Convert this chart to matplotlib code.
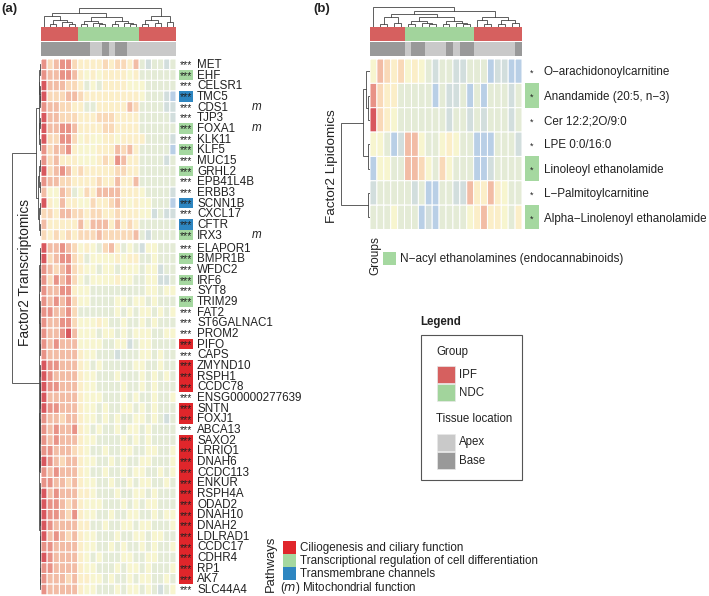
from __future__ import annotations

import matplotlib
matplotlib.use("Agg")
import matplotlib.pyplot as plt
import numpy as np
from matplotlib.colors import LinearSegmentedColormap, ListedColormap
from matplotlib.patches import Rectangle

plt.rcParams["font.family"] = ["Liberation Sans", "DejaVu Sans"]

W, H = 709, 596

genes_top = ["MET", "EHF", "CELSR1", "TMC5", "CDS1", "TJP3", "FOXA1", "KLK11", "KLF5", "MUC15",
             "GRHL2", "EPB41L4B", "ERBB3", "SCNN1B", "CXCL17", "CFTR", "IRX3"]
genes_bottom = ["ELAPOR1", "BMPR1B", "WFDC2", "IRF6", "SYT8", "TRIM29", "FAT2", "ST6GALNAC1", "PROM2",
                "PIFO", "CAPS", "ZMYND10", "RSPH1", "CCDC78", "ENSG00000277639", "SNTN", "FOXJ1",
                "ABCA13", "SAXO2", "LRRIQ1", "DNAH6", "CCDC113", "ENKUR", "RSPH4A", "ODAD2", "DNAH10",
                "DNAH2", "LDLRAD1", "CCDC17", "CDHR4", "RP1", "AK7", "SLC44A4"]

# colour levels: -3 blue ... 0 pale yellow ... 5 deep red
expr_top = [
    [4, 2, 3, 4, 4, 2, 1, 1, 1, 1, 2, 1, 2, 2, 1, 3, -1, -2, -1, -1, -2, -1],
    [4, 3, 3, 4, 4, 3, 1, 0, 1, 0, 1, 1, 1, 1, 0, 1, -1, -1, -1, -1, -1, -1],
    [5, 3, 3, 3, 2, 2, 1, -1, 0, -1, 1, 1, 1, 1, 0, 0, 0, -1, -1, -1, -1, -1],
    [5, 2, 2, 2, 3, 3, 2, 1, 1, 1, 1, 1, 1, 1, 1, 1, 0, -1, -1, -1, -2, -3],
    [4, 3, 3, 2, 2, 1, 1, -1, -1, 1, 1, 1, 1, 1, 3, 2, -1, -1, -1, -1, -2, -2],
    [5, 3, 3, 2, 2, 2, 1, 1, 1, 2, 2, 2, 1, 1, 1, 1, -1, -1, -1, -1, -1, -2],
    [5, 3, 3, 4, 4, 3, 1, 1, 1, 1, 2, 2, 1, 1, 1, 1, -1, -1, -1, -1, -1, -1],
    [5, 2, 2, 4, 4, 2, 0, 1, 0, 0, 1, 1, 0, 1, 1, 1, 1, -1, -1, -1, -1, -2],
    [4, 2, 3, 3, 4, 1, 0, 0, 0, 1, 1, 1, 3, 2, 3, 1, -1, -1, -1, -1, -1, -3],
    [4, 2, 3, 1, 1, 1, 0, 0, 0, 1, 2, 1, 4, 3, 1, 1, -1, -1, -1, -1, -2, -1],
    [5, 2, 3, 4, 3, 1, 2, 1, 1, 1, 1, 1, 2, 2, 1, 1, -1, -1, -1, -1, -1, -1],
    [4, 3, 3, 2, 2, 1, 1, 1, 1, 2, 1, 1, 3, 1, 1, 3, -1, -1, -1, -1, -1, -1],
    [3, 0, 0, 3, 2, -1, 0, 2, 1, 3, 3, 3, 3, 1, 1, 1, 0, -1, -1, -1, -1, -2],
    [5, 1, 0, 3, 1, 1, 0, 0, 2, 1, 1, 2, 3, 1, 0, 1, 0, 0, -1, -1, -1, -3],
    [2, 2, 1, 3, 3, 2, 2, 1, 2, 2, 1, 1, 2, 1, 1, 1, 0, 0, -2, -1, -2, -2],
    [3, 1, 1, 1, 1, 1, 3, 1, 3, 3, 3, 1, 3, 1, 2, 1, -1, -1, -1, -1, -1, -1],
    [2, 1, 2, 1, 2, 1, 2, 2, 2, 3, 2, 2, 2, 2, 2, 3, -1, -2, -1, -1, -1, -1],
]
expr_bottom = [
    [5, 3, 3, 4, 3, 2, 0, 1, 0, -1, 2, 3, 1, -1, 0, -1, -2, 0, 0, -1, -1, -1],
    [5, 2, 3, 4, 4, 2, 1, -1, 0, 0, 0, 0, 1, 0, 1, 1, -1, -1, 0, -1, -1, -1],
    [4, 3, 2, 3, 4, 2, 1, 0, 0, -1, 0, 0, -1, 0, 0, 0, -1, 0, 0, -2, -1, -1],
    [4, 2, 4, 3, 4, 2, 0, -1, 0, 0, 0, 0, 1, 0, 0, -1, -1, 0, 0, -2, -2, -1],
    [4, 3, 3, 4, 4, 1, 0, 0, -1, -1, -1, -1, -1, -1, -1, -1, -1, 0, 0, -1, 0, 0],
    [4, 3, 4, 3, 4, 2, 0, 0, -1, -1, -1, -1, 0, 0, -1, 0, 0, -1, 0, -1, -1, -1],
    [4, 4, 3, 3, 4, 2, -1, -1, -1, -1, -1, -1, 0, -1, 0, -1, 0, 0, -1, 0, -1, 0],
    [4, 3, 3, 4, 4, 2, 0, 0, 0, 1, 0, -1, -1, 0, -1, -1, 0, -1, 0, -1, -1, -1],
    [4, 3, 3, 4, 5, 3, 0, 0, 0, -1, 0, 0, -1, 0, -1, 0, 0, 0, -1, -1, 0, 0],
    [4, 3, 4, 3, 3, 3, 0, 0, 0, 0, -1, -1, 0, 0, -2, -1, 0, 0, -1, -1, -1, -1],
    [4, 3, 3, 3, 3, 3, 1, 0, 0, -1, -1, -1, -2, -1, -1, -1, 0, 0, -1, 0, -1, -1],
    [5, 4, 4, 3, 3, 3, 1, 0, -1, 0, -1, -1, -1, -1, -1, 0, 0, -1, -1, 0, -1, -1],
    [5, 4, 3, 3, 3, 3, 1, 0, 0, -1, -1, -1, 0, -1, -1, -1, 0, -1, 0, -1, 0, -1],
    [5, 4, 4, 3, 3, 3, 1, 0, 0, -1, -1, -1, -1, 0, -1, -1, 0, -1, 0, -1, -1, -1],
    [5, 3, 3, 3, 3, 3, 1, 0, 0, 0, -1, -1, -1, 0, -1, 0, -1, -1, 0, -1, -1, 0],
    [5, 4, 4, 3, 3, 3, 1, 0, 0, -1, 0, -1, -1, 0, 0, -1, 0, -1, 0, -1, -1, -1],
    [4, 3, 3, 2, 3, 3, 1, 0, 0, -1, 0, -1, 0, -1, -1, 0, 0, -1, 0, -1, -2, -1],
    [4, 3, 4, 3, 3, 4, 1, 0, -1, 0, -1, -1, 0, -1, 0, 0, -1, 0, -1, -1, -1, -1],
    [4, 3, 4, 3, 3, 3, 1, 0, 0, -1, -1, -1, -1, 0, -1, 0, -1, 0, -1, -1, -1, -1],
    [4, 4, 3, 3, 3, 2, 1, 0, -1, -1, 0, -1, -1, 0, 0, -1, -1, 0, 0, -1, -1, 0],
    [5, 4, 3, 2, 3, 3, 1, 0, 0, -1, -1, 0, -1, 0, -1, -1, 0, 0, -1, -1, -1, 0],
    [4, 3, 4, 3, 3, 3, 1, 0, -1, -1, 0, -1, -1, 0, -1, 0, 0, -1, -1, 0, -1, 0],
    [4, 4, 3, 3, 2, 3, 1, 0, 0, -1, -1, 0, -1, -1, 0, -1, 0, 0, -1, -1, 0, -1],
    [5, 3, 4, 3, 3, 3, 1, 1, 0, -1, -1, -1, 0, -1, -1, 0, 0, -1, 0, -1, -1, -1],
    [5, 4, 4, 3, 2, 3, 1, 0, 0, 0, -1, -1, -1, 0, -1, 0, -1, 0, 0, -1, -1, -1],
    [5, 4, 4, 3, 2, 4, 1, 0, 0, -1, -1, 0, -1, -1, 0, 0, -1, -1, 0, -1, 0, 0],
    [5, 4, 3, 3, 3, 3, 1, 1, -1, -1, 0, -1, -1, 0, 0, -1, 0, 0, -1, -1, -1, 0],
    [5, 3, 4, 3, 2, 3, 1, 0, 0, -1, -1, -1, 0, -1, -1, 0, 0, -1, 0, 0, -1, -1],
    [4, 4, 3, 3, 3, 3, 1, 0, 0, -1, -1, 0, -1, 0, -1, -1, 0, -1, 0, -1, -1, 0],
    [5, 4, 3, 3, 3, 3, 1, 0, -1, 0, -1, -1, -1, 0, 0, -1, -1, 0, 0, -1, -1, -1],
    [4, 4, 3, 3, 3, 3, 1, 0, 0, -1, -1, -1, 0, -1, 0, 0, -1, 0, -1, -1, -1, 0],
    [4, 3, 3, 3, 2, 3, 1, 1, 0, 0, -1, 0, -1, -1, 0, -1, 0, 0, -1, -1, 0, -1],
    [4, 3, 3, 3, 3, 3, 1, 0, 0, -1, -1, -1, 0, -1, 0, 0, -1, 0, -1, -2, -1, 0],
]

# pathway of each gene: r ciliary, g transcription, b channel, "" none
path_top = ["", "g", "", "b", "", "", "g", "", "g", "", "g", "", "", "b", "", "b", "g"]
path_bottom = ["", "g", "", "g", "", "g", "", "", "", "r", "", "r", "r", "r", "", "r", "r", "",
               "r", "r", "r", "r", "r", "r", "r", "r", "r", "r", "r", "r", "r", "r", ""]
mito_genes = ["CDS1", "FOXA1", "IRX3"]

group_a = ["IPF"] * 6 + ["NDC"] * 10 + ["IPF"] * 6
tissue_a = ["Base"] * 8 + ["Apex"] * 2 + ["Base"] + ["Apex"] + ["Base"] * 2 + ["Apex"] * 8
group_b = ["IPF"] * 5 + ["NDC"] * 10 + ["IPF"] * 7
tissue_b = (["Base"] * 5 + ["Apex"] + ["Base"] * 2 + ["Apex"] * 3 + ["Base"] + ["Apex"] + ["Base"] * 2
            + ["Apex"] * 6 + ["Base"])

lipids = ["O\u2212arachidonoylcarnitine", "Anandamide (20:5, n\u22123)", "Cer 12:2;2O/9:0", "LPE 0:0/16:0",
          "Linoleoyl ethanolamide", "L\u2212Palmitoylcarnitine", "Alpha\u2212Linolenoyl ethanolamide"]
path_lipids = ["", "g", "", "", "g", "", "g"]
lipid_values = [
    [0, 3, 2, 1, 2, 0, 1, 0, -1, -2, -1, -1, -2, -2, -1, -1, -1, -3, -2, -2, -3, -3],
    [4, 2, 1, 1, -1, -1, -1, -1, -1, -3, -1, -2, -2, -1, -3, -1, -3, -1, -1, -1, -2, -1],
    [5, 2, 1, 0, -1, -1, -1, -1, -1, -1, -1, -2, -1, -1, -2, -1, -2, -1, -1, -1, -2, -1],
    [0, 0, -1, -3, -2, 3, 3, 0, -1, -1, 0, 1, 0, -1, -1, -3, -3, -3, -1, -1, -1, -2],
    [-3, 0, 0, -1, -1, 3, 3, 2, 0, -1, 2, 0, -1, -1, -1, -3, -3, -2, -1, -1, -1, -1],
    [-2, -1, -1, -1, -1, -1, -2, -1, -3, -3, -1, -1, -2, -2, 3, 1, 1, 3, 1, 0, -1, -1],
    [-1, -1, -1, 0, -1, -1, -1, -3, -2, -3, -1, -1, -1, -1, 0, 1, 3, 1, 1, 0, -1, 1],
]

# dendrograms as nested (height, left, right), L is a leaf
L = None
five = (0.7, (0.4, L, L), (0.5, L, (0.3, L, L)))
six = (0.7, (0.5, L, (0.3, L, L)), (0.5, L, (0.3, L, L)))
cols5 = (6, (3, L, L), (4, L, (2.5, L, L)))

tree_rows_a = (
    29,
    (4.4,
     (2.0, (1.3, (0.8, L, L), (0.9, L, (0.5, L, L))), (1.2, (0.7, L, L), (0.9, L, L))),
     (2.2, (1.2, (0.7, L, L), (0.8, L, L)), (1.5, (0.9, L, L), (0.6, L, L)))),
    (1.6,
     (1.2, (0.8, (0.5, L, L), (0.6, L, (0.4, L, L))), (0.9, (0.5, L, L), (0.6, (0.4, L, L), (0.3, L, L)))),
     (1.2, (0.8, five, six), (0.9, five, six))),
)
tree_cols_a = (
    19,
    (13.5,
     (10.5, L, (7, (3, L, L), (4.5, L, (2.5, L, L)))),
     (10, cols5, cols5)),
    (10.5, (6.5, (3, L, L), (4, L, L)), (5, L, L)),
)
tree_rows_b = (
    29,
    (6.5, (4, L, (2, L, L)), (2, L, L)),
    (1.5, L, L),
)
tree_cols_b = (
    19.5,
    L,
    (16,
     (12.5, (9.5, (3, L, L), (4, L, L)), (10, cols5, cols5)),
     (9.5, (6.5, L, (3, L, L)), (7, (3, L, L), (4, L, L)))),
)

HEAT_COLORS = ["#b9cfe6", "#d2dedd", "#e4ebd6", "#f7f5cf", "#fbeec8", "#f9dab8", "#f2bda6", "#e89488", "#d8575e"]
heat_cmap = LinearSegmentedColormap.from_list("heat", HEAT_COLORS)
GROUP_COL = {"IPF": "#d6605f", "NDC": "#a2d49c"}
TISSUE_COL = {"Apex": "#c9c9c9", "Base": "#999999"}
PATH_COL = {"r": "#e0262b", "g": "#a5d8a0", "b": "#2e86c1"}
TEXT = "#222222"


def px_axes(fig, x0, y0, x1, y1):
    ax = fig.add_axes([x0 / W, 1 - y1 / H, (x1 - x0) / W, (y1 - y0) / H])
    ax.set_axis_off()
    return ax


def heat(fig, box, values):
    ax = px_axes(fig, *box)
    mesh = ax.pcolormesh(np.array(values, float), cmap=heat_cmap, vmin=-3, vmax=5,
                         edgecolors="white", linewidth=0.72, antialiased=True)
    # snapping makes the gaps uneven on thin columns
    mesh.set_snap(False)
    ax.set_ylim(len(values), 0)
    return ax


def strip(fig, box, labels, colors):
    ax = px_axes(fig, *box)
    names = list(colors)
    codes = np.array([[names.index(v) for v in labels]])
    ax.pcolormesh(codes, cmap=ListedColormap([colors[n] for n in names]), vmin=-0.5, vmax=len(names) - 0.5)
    return ax


def draw_tree(ax, node, leaves, vertical):
    # returns position and height of the node, drawing it on the way
    if node is None:
        return next(leaves), 0.0
    h, left, right = node
    p1, h1 = draw_tree(ax, left, leaves, vertical)
    p2, h2 = draw_tree(ax, right, leaves, vertical)
    pos = [p1, p1, p2, p2]
    hts = [h1, h, h, h2]
    if vertical:
        ax.plot(pos, hts, color="#444444", lw=0.6, solid_joinstyle="miter")
    else:
        ax.plot(hts, pos, color="#444444", lw=0.6, solid_joinstyle="miter")
    return (p1 + p2) / 2, h


def path_cells(ax, paths, boxed_star="***", size=7.6):
    for i, p in enumerate(paths):
        if p:
            ax.add_patch(Rectangle((0, i), 1, 1, facecolor=PATH_COL[p], edgecolor="none"))
        ax.text(0.5, i + 0.58, boxed_star, ha="center", va="center", fontsize=size, color=TEXT)


def main() -> None:
    fig = plt.figure(figsize=(W / 100, H / 100), dpi=100, facecolor="white")
    n_cols = len(group_a)
    pitch = 10.67
    top0 = 59.0
    top1 = top0 + pitch * len(genes_top)
    bot0 = top1 + 2.3
    bot1 = bot0 + pitch * len(genes_bottom)

    # panel a
    strip(fig, (41, 27, 176, 41), group_a, GROUP_COL)
    strip(fig, (41, 42, 176, 56), tissue_a, TISSUE_COL)
    heat(fig, (41, top0, 176, top1), expr_top)
    heat(fig, (41, bot0, 176, bot1), expr_bottom)

    ax = px_axes(fig, 41, 3, 176, 26.5)
    ax.set_xlim(0, n_cols)
    ax.set_ylim(0, 23.5)
    draw_tree(ax, tree_cols_a, iter(np.arange(n_cols) + 0.5), True)

    ax = px_axes(fig, 10, top0, 40.5, bot1)
    ax.set_xlim(30.5, 0)
    gap = (bot0 - top1) / pitch
    n_top, n_bot = len(genes_top), len(genes_bottom)
    ax.set_ylim(n_top + n_bot + gap, 0)
    leaf_y = np.r_[np.arange(n_top) + 0.5, np.arange(n_bot) + 0.5 + n_top + gap]
    draw_tree(ax, tree_rows_a, iter(leaf_y), False)

    for box, genes, paths in [((178.5, top0, 193, top1), genes_top, path_top),
                              ((178.5, bot0, 193, bot1), genes_bottom, path_bottom)]:
        ax = px_axes(fig, *box)
        ax.set_xlim(0, 1)
        ax.set_ylim(len(genes), 0)
        path_cells(ax, paths)
        ax = px_axes(fig, 197, box[1], 320, box[3])
        ax.set_xlim(0, 123)
        ax.set_ylim(len(genes), 0)
        for i, g in enumerate(genes):
            ax.text(0, i + 0.55, g, ha="left", va="center", fontsize=8.4, color=TEXT)
            if g in mito_genes:
                ax.text(60, i + 0.5, "m", ha="center", va="center", fontsize=8.4, style="italic", color=TEXT)

    fig.text(25 / W, 1 - 272 / H, "Factor2 Transcriptomics", rotation=90, ha="center", va="center",
             fontsize=9.9, color=TEXT)

    # panel b
    strip(fig, (370, 27, 522, 41), group_b, GROUP_COL)
    strip(fig, (370, 42, 522, 56), tissue_b, TISSUE_COL)
    heat(fig, (370, 59, 522, 229.5), lipid_values)

    ax = px_axes(fig, 370, 3, 522, 26.5)
    ax.set_xlim(0, len(group_b))
    ax.set_ylim(0, 23.5)
    draw_tree(ax, tree_cols_b, iter(np.arange(len(group_b)) + 0.5), True)

    ax = px_axes(fig, 339, 59, 369.5, 229.5)
    ax.set_xlim(30.5, 0)
    ax.set_ylim(len(lipids), 0)
    draw_tree(ax, tree_rows_b, iter(np.arange(len(lipids)) + 0.5), False)

    ax = px_axes(fig, 525, 59, 539, 229.5)
    ax.set_xlim(0, 1)
    ax.set_ylim(len(lipids), 0)
    path_cells(ax, path_lipids, boxed_star="*", size=6.5)
    ax = px_axes(fig, 544, 59, 708, 229.5)
    ax.set_xlim(0, 164)
    ax.set_ylim(len(lipids), 0)
    for i, name in enumerate(lipids):
        ax.text(0, i + 0.55, name, ha="left", va="center", fontsize=8.4, color=TEXT)

    fig.text(332 / W, 1 - 166 / H, "Factor2 Lipidomics", rotation=90, ha="center", va="center",
             fontsize=9.7, color=TEXT)
    fig.text(375 / W, 1 - 256 / H, "Groups", rotation=90, ha="center", va="center", fontsize=8.6, color=TEXT)

    # labels and legends, laid out in picture pixels
    over = px_axes(fig, 0, 0, W, H)
    over.set_xlim(0, W)
    over.set_ylim(H, 0)
    over.patch.set_alpha(0)
    over.text(1, 9, "(a)", fontsize=9.5, fontweight="bold", ha="left", va="center", color=TEXT)
    over.text(313, 9, "(b)", fontsize=9.5, fontweight="bold", ha="left", va="center", color=TEXT)

    over.add_patch(Rectangle((383, 252), 13, 13, facecolor=PATH_COL["g"], edgecolor="none"))
    over.text(400, 259, "N\u2212acyl ethanolamines (endocannabinoids)", fontsize=8.45, va="center", color=TEXT)

    over.text(420, 322, "Legend", fontsize=8.3, fontweight="bold", va="center", color=TEXT)
    over.add_patch(Rectangle((421, 335), 101, 145, facecolor="none", edgecolor="#555555", lw=0.8))
    over.text(436, 352, "Group", fontsize=8.3, va="center", color=TEXT)
    over.text(436, 419, "Tissue location", fontsize=8.3, va="center", color=TEXT)
    legend_rows = [("IPF", GROUP_COL["IPF"], 365.5), ("NDC", GROUP_COL["NDC"], 383.5),
                   ("Apex", TISSUE_COL["Apex"], 433.5), ("Base", TISSUE_COL["Base"], 451.5)]
    for label, color, y in legend_rows:
        over.add_patch(Rectangle((437, y), 17.5, 17.5, facecolor=color, edgecolor="#e8e8e8", lw=0.5))
        over.text(459, y + 9, label, fontsize=8.3, va="center", color=TEXT)

    over.text(270.5, 564, "Pathways", rotation=90, fontsize=9.4, ha="center", va="center", color=TEXT)
    path_rows = [("Ciliogenesis and ciliary function", PATH_COL["r"], 541),
                 ("Transcriptional regulation of cell differentiation", PATH_COL["g"], 554),
                 ("Transmembrane channels", PATH_COL["b"], 567)]
    for label, color, y in path_rows:
        over.add_patch(Rectangle((283, y), 13, 13, facecolor=color, edgecolor="none"))
        over.text(300, y + 7, label, fontsize=8.4, va="center", color=TEXT)
    over.text(280, 588, "($\\mathit{m}$) Mitochondrial function", fontsize=8.4, va="center", color=TEXT)

    fig.savefig("out.png", dpi=100, facecolor="white")
    plt.close(fig)


if __name__ == "__main__":
    main()
